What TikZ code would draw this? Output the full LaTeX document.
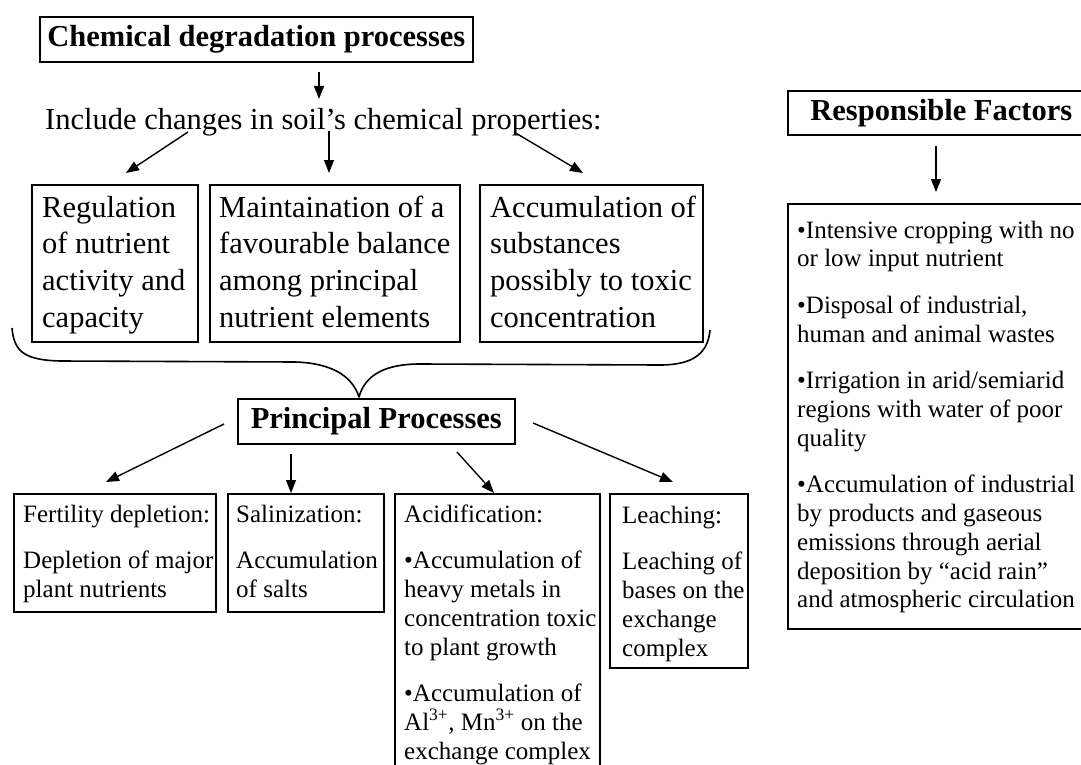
\documentclass[tikz,border=0pt]{standalone}
\usepackage{fontspec}
\setmainfont{Liberation Serif}
\usetikzlibrary{arrows.meta}
\begin{document}
\begin{tikzpicture}[x=1pt,y=-1pt,
  frame/.style={draw=black, line width=1.6pt, inner sep=0pt, anchor=north west},
  link/.style={line width=1.4pt, -{Triangle[length=13pt,width=10pt]}},
  bigtext/.style={font=\fontsize{30.5}{36.7}\selectfont},
  smalltext/.style={font=\fontsize{25}{29}\selectfont},
  sidetext/.style={font=\fontsize{25}{28.7}\selectfont},
  headline/.style={font=\bfseries\fontsize{30.5}{36}\selectfont},
  txt/.style={inner sep=0pt, anchor=base west},
]
\clip (0,0) rectangle (1081,765);
\fill[white] (0,0) rectangle (1081,765);

% --- top title and its description ---
\node[frame, headline, minimum width=433pt, minimum height=45pt] (chem) at (39,16) {Chemical degradation processes};
\node[txt, bigtext] (incl) at (45,130) {Include changes in soil’s chemical properties:};

% --- three property boxes ---
\node[frame, minimum width=166pt, minimum height=157pt] (regBox) at (31,184) {};
\node[frame, minimum width=250pt, minimum height=157pt] (balBox) at (209,184) {};
\node[frame, minimum width=223pt, minimum height=157pt] (accBox) at (479,184) {};
\node[txt, bigtext] (regText) at (42,217) {\parbox[t]{160pt}{Regulation\\of nutrient\\activity and\\capacity}};
\node[txt, bigtext] (balText) at (219,217) {\parbox[t]{245pt}{Maintaination of a\\favourable balance\\among principal\\nutrient elements}};
\node[txt, bigtext] (accText) at (490,217) {\parbox[t]{220pt}{Accumulation of\\substances\\possibly to toxic\\concentration}};

% --- principal processes ---
\node[frame, headline, minimum width=277pt, minimum height=45pt] (pp) at (237,398) {Principal Processes};

% --- process boxes ---
\node[frame, minimum width=202pt, minimum height=118pt] (fertBox) at (13,493) {};
\node[frame, minimum width=156pt, minimum height=118pt] (salBox) at (227,493) {};
\node[frame, minimum width=205pt, minimum height=300pt] (acidBox) at (394,493) {};
\node[frame, minimum width=138pt, minimum height=174pt] (leachBox) at (609,493) {};
\node[txt, smalltext] (fertText) at (23,522) {\parbox[t]{200pt}{Fertility depletion:\\[17pt]Depletion of major\\plant nutrients}};
\node[txt, smalltext] (salText) at (236,522) {\parbox[t]{150pt}{Salinization:\\[17pt]Accumulation\\of salts}};
\node[txt, smalltext] (acidText) at (404,522) {\parbox[t]{200pt}{Acidification:\\[17pt]•Accumulation of\\heavy metals in\\concentration toxic\\to plant growth\\[17pt]•Accumulation of\\Al\textsuperscript{3+}, Mn\textsuperscript{3+} on the\\exchange complex}};
\node[txt, smalltext] (leachText) at (622,523) {\parbox[t]{130pt}{Leaching:\\[17pt]Leaching of\\bases on the\\exchange\\complex}};

% --- responsible factors ---
\node[frame, headline, minimum width=307pt, minimum height=44pt] (resp) at (787,90) {Responsible Factors};
\node[frame, minimum width=320pt, minimum height=425pt] (factBox) at (787,203) {};
\node[txt, sidetext] (factText) at (797,238) {\parbox[t]{285pt}{•Intensive cropping with no\\or low input nutrient\\[18pt]•Disposal of industrial,\\human and animal wastes\\[18pt]•Irrigation in arid/semiarid\\regions with water of poor\\quality\\[18pt]•Accumulation of industrial\\by products and gaseous\\emissions through aerial\\deposition by “acid rain”\\and atmospheric circulation}};

% --- connector end points ---
\coordinate (chemOut) at (319,72);
\coordinate (inclIn) at (319,99);
\coordinate (inclL) at (188,132);
\coordinate (regIn) at (126,173);
\coordinate (inclM) at (329,131);
\coordinate (balIn) at (329,173);
\coordinate (inclR) at (514,132);
\coordinate (accIn) at (583,173);
\coordinate (ppL) at (224,424);
\coordinate (fertIn) at (106,482);
\coordinate (ppM) at (291,454);
\coordinate (salIn) at (291,493);
\coordinate (ppC) at (457,452);
\coordinate (acidIn) at (494,493);
\coordinate (ppR) at (533,423);
\coordinate (leachIn) at (673,482);
\coordinate (respOut) at (936,146);
\coordinate (factIn) at (936,192);

% --- arrows ---
\draw[link] (chemOut) -- (inclIn);
\draw[link] (inclL) -- (regIn);
\draw[link] (inclM) -- (balIn);
\draw[link] (inclR) -- (accIn);
\draw[link] (ppL) -- (fertIn);
\draw[link] (ppM) -- (salIn);
\draw[link] (ppC) -- (acidIn);
\draw[link] (ppR) -- (leachIn);
\draw[link] (respOut) -- (factIn);

% --- brace gathering the three properties ---
\coordinate (braceTip) at (359,397);
\draw[line width=1.6pt, line join=round]
  (12,328) .. controls (14,352) and (25,360) .. (60,361) -- (295,362)
  .. controls (330,363) and (352,375) .. (braceTip)
  .. controls (365,375) and (385,364) .. (420,364) -- (660,365)
  .. controls (695,365) and (708,352) .. (710,330);
\end{tikzpicture}
\end{document}
